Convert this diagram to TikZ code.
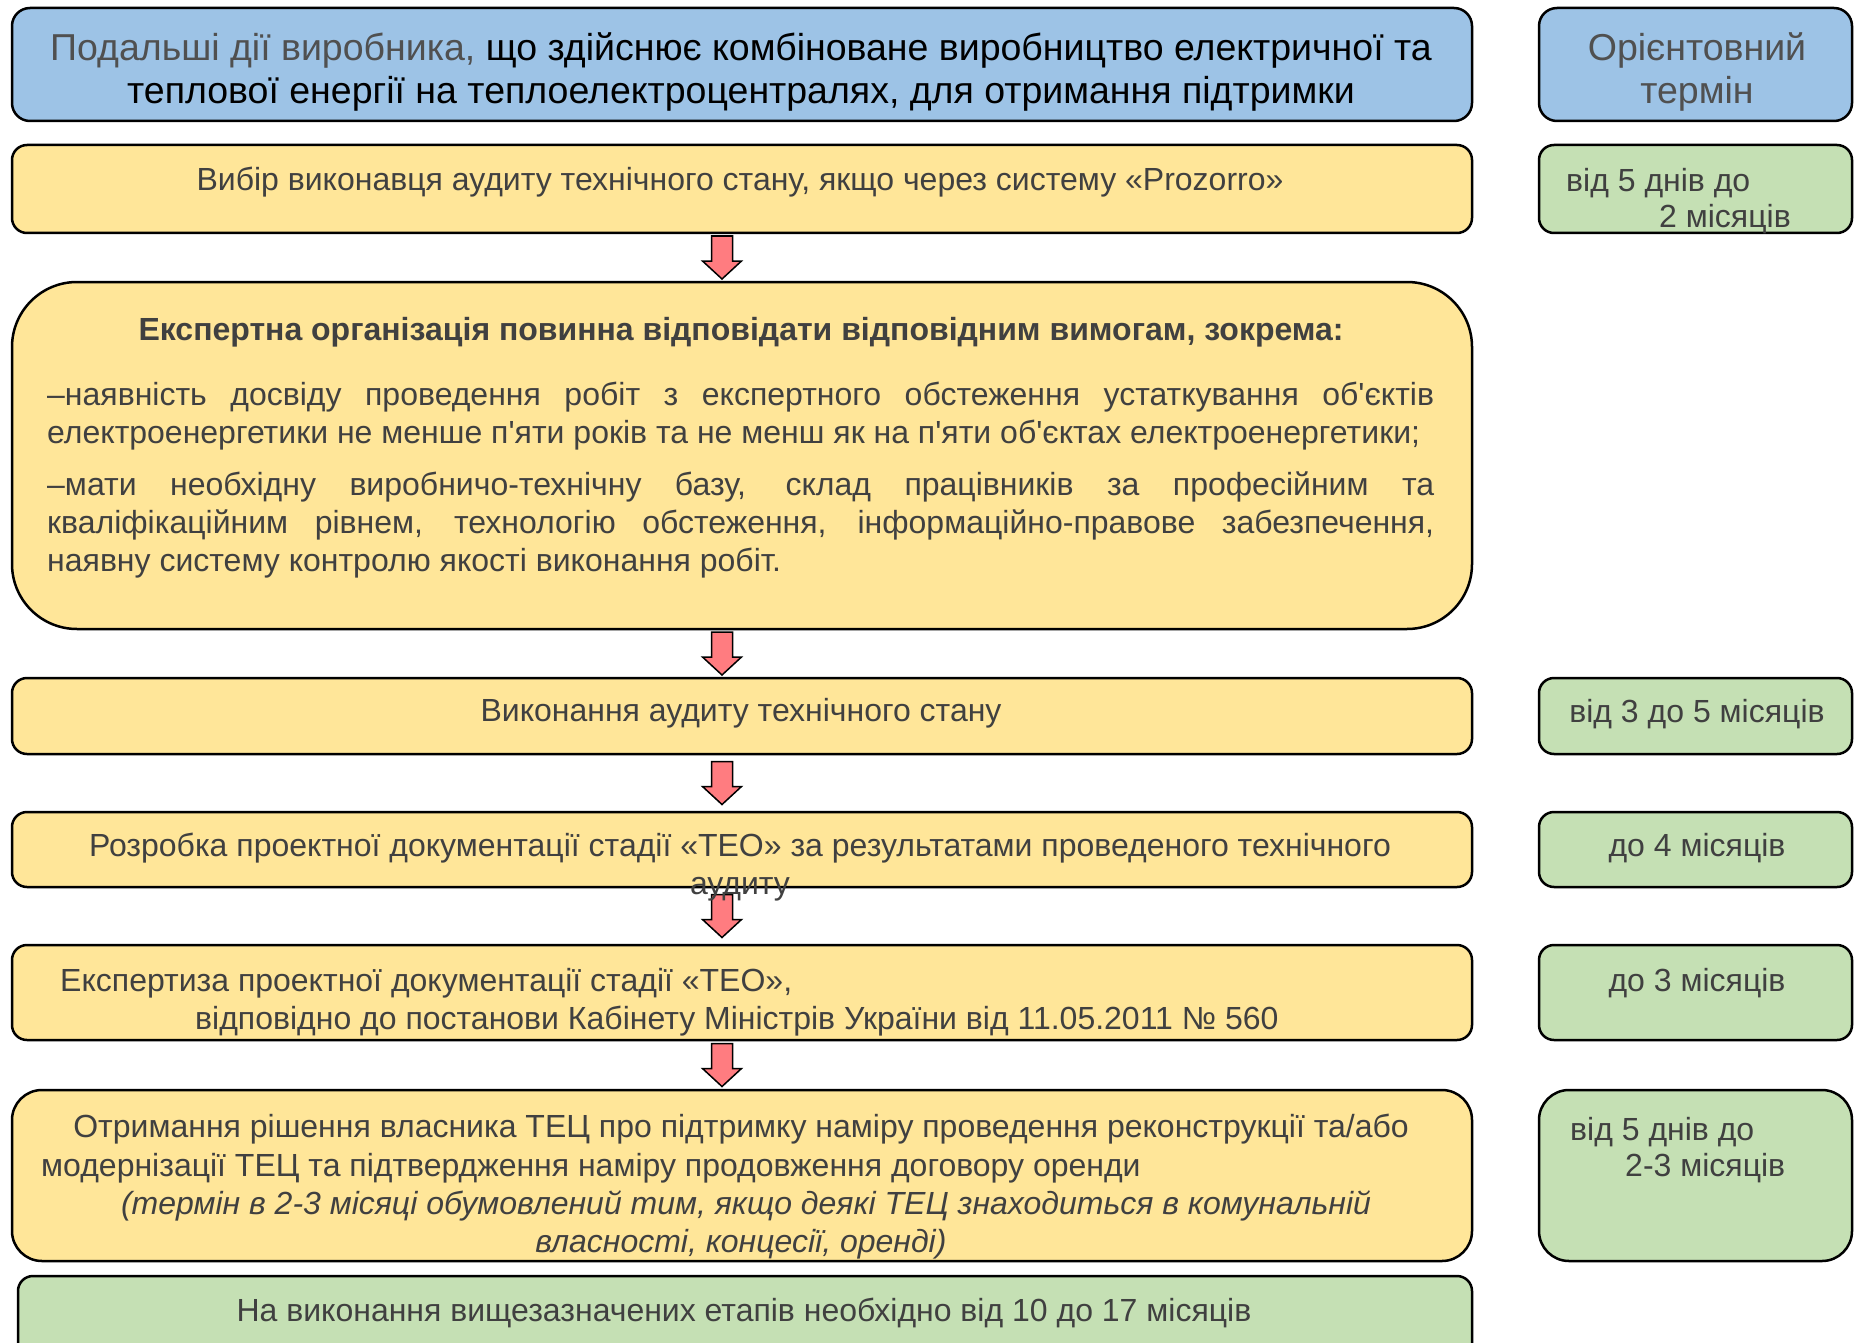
\documentclass[tikz,border=0pt]{standalone}
\usepackage{fontspec}
\setmainfont{Liberation Sans}[Ligatures=TeXOff]
\usetikzlibrary{calc}
\definecolor{hdrblue}{RGB}{157,195,230}
\definecolor{stepyellow}{RGB}{255,230,153}
\definecolor{termgreen}{RGB}{197,224,180}
\definecolor{arrowred}{RGB}{255,124,128}
\definecolor{txtgray}{RGB}{64,64,64}
\definecolor{hdrgray}{RGB}{80,80,80}

\begin{document}
\begin{tikzpicture}[x=1pt,y=-1pt,
  box/.style={draw=black, line width=2.5pt, rounded corners=#1, inner sep=0pt, outer sep=0pt, anchor=north west},
  box/.default=15pt,
  txt/.style={inner sep=0pt, text=txtgray, font=\fontsize{32}{38}\selectfont},
  hdrtxt/.style={inner sep=0pt, font=\fontsize{37.5}{44}\selectfont},
  flowarrow/.pic={\filldraw[fill=arrowred, draw=black, line width=1.5pt] (-10.5,-21.5) -- (10.5,-21.5) -- (10.5,3.5) -- (19.5,3.5) -- (0,21.5) -- (-19.5,3.5) -- (-10.5,3.5) -- cycle;}]
\clip (0,0) rectangle (1855,1343);

% Header boxes
\node[box=18pt, fill=hdrblue, minimum width=1460pt, minimum height=113pt] (head) at (12,8) {};
\node[box=18pt, fill=hdrblue, minimum width=313pt, minimum height=113pt] (headterm) at (1539,8) {};
% Steps
\node[box, fill=stepyellow, minimum width=1460pt, minimum height=88pt] (tender) at (12,145) {};
\node[box, fill=termgreen, minimum width=313pt, minimum height=88pt] (tenderterm) at (1539,145) {};
\node[box=65pt, fill=stepyellow, minimum width=1460pt, minimum height=347pt] (expert) at (12,282) {};
\node[box, fill=stepyellow, minimum width=1460pt, minimum height=76pt] (audit) at (12,678) {};
\node[box, fill=termgreen, minimum width=313pt, minimum height=76pt] (auditterm) at (1539,678) {};
\node[box, fill=stepyellow, minimum width=1460pt, minimum height=75pt] (teo) at (12,812) {};
\node[box, fill=termgreen, minimum width=313pt, minimum height=75pt] (teoterm) at (1539,812) {};
\node[box, fill=stepyellow, minimum width=1460pt, minimum height=95pt] (review) at (12,945) {};
\node[box, fill=termgreen, minimum width=313pt, minimum height=95pt] (reviewterm) at (1539,945) {};
\node[box=30pt, fill=stepyellow, minimum width=1460pt, minimum height=171pt] (owner) at (12,1090) {};
\node[box=30pt, fill=termgreen, minimum width=313pt, minimum height=171pt] (ownerterm) at (1539,1090) {};
\node[box, fill=termgreen, minimum width=1454pt, minimum height=100pt] (total) at (18,1276) {};

% Arrows
\pic at ($(tender.south)!.5!(expert.north)+(-20,0)$) {flowarrow};
\pic at ($(expert.south)!.5!(audit.north)+(-20,0)$) {flowarrow};
\pic at ($(audit.south)!.5!(teo.north)+(-20,0)$) {flowarrow};
\pic at ($(teo.south)!.5!(review.north)+(-20,0)$) {flowarrow};
\pic at ($(review.south)!.5!(owner.north)+(-20,0)$) {flowarrow};

% Text Node
\node[hdrtxt, anchor=base] (headl1) at (741,61) {\textcolor{hdrgray}{Подальші дії виробника,} що здійснює комбіноване виробництво електричної та};
\node[hdrtxt, anchor=base] (headl2) at (741,104) {теплової енергії на теплоелектроцентралях, для отримання підтримки};
\node[hdrtxt, text=hdrgray, anchor=base] (headterml1) at (1697,61) {Орієнтовний};
\node[hdrtxt, text=hdrgray, anchor=base] (headterml2) at (1697,104) {термін};
% Text Node
\node[txt, anchor=base] (tendertxt) at (740,191) {Вибір виконавця аудиту технічного стану, якщо через систему «Prozorro»};
\node[txt, anchor=base west] (tenderterml1) at (1566,192) {від 5 днів до};
\node[txt, anchor=base west] (tenderterml2) at (1659,228) {2 місяців};
% Text Node
\node[txt, anchor=base] (experttitle) at (741,340) {\bfseries Експертна організація повинна відповідати відповідним вимогам, зокрема:};
\node[txt, anchor=north west, text width=1387pt, align=justify] (expertp1) at (47,381) {\rule{0pt}{24pt}–наявність досвіду проведення робіт з експертного обстеження устаткування об'єктів\linebreak електроенергетики не менше п'яти років та не менш як на п'яти об'єктах електроенергетики;};
\node[txt, anchor=north west, text width=1387pt, align=justify] (expertp2) at (47,471) {\rule{0pt}{24pt}–мати необхідну виробничо-технічну базу, склад працівників за професійним та\linebreak кваліфікаційним рівнем, технологію обстеження, інформаційно-правове забезпечення,\linebreak наявну систему контролю якості виконання робіт.};
% Text Node
\node[txt, anchor=base] (audittxt) at (741,721) {Виконання аудиту технічного стану};
\node[txt, anchor=base] (audittermtxt) at (1697,722) {від 3 до 5 місяців};
\node[txt, anchor=base] (teol1) at (740,856) {Розробка проектної документації стадії «ТЕО» за результатами проведеного технічного};
\node[txt, anchor=base] (teol2) at (740,894) {аудиту};
\node[txt, anchor=base] (teotermtxt) at (1697,856) {до 4 місяців};
\node[txt, anchor=base west] (reviewl1) at (60,991) {Експертиза проектної документації стадії «ТЕО»,};
\node[txt, anchor=base west] (reviewl2) at (195,1029) {відповідно до постанови Кабінету Міністрів України від 11.05.2011 № 560};
\node[txt, anchor=base] (reviewtermtxt) at (1697,991) {до 3 місяців};
% Text Node
\node[txt, anchor=base] (ownerl1) at (741,1137) {Отримання рішення власника ТЕЦ про підтримку наміру проведення реконструкції та/або};
\node[txt, anchor=base west] (ownerl2) at (41,1176) {модернізації ТЕЦ та підтвердження наміру продовження договору оренди};
\node[txt, anchor=base, font=\fontsize{32}{38}\selectfont\itshape] (ownerl3) at (746,1214) {(термін в 2-3 місяці обумовлений тим, якщо деякі ТЕЦ знаходиться в комунальній};
\node[txt, anchor=base, font=\fontsize{32}{38}\selectfont\itshape] (ownerl4) at (741,1252) {власності, концесії, оренді)};
\node[txt, anchor=base west] (ownerterml1) at (1570,1140) {від 5 днів до};
\node[txt, anchor=base west] (ownerterml2) at (1625,1176) {2-3 місяців};
% Text Node
\node[txt, anchor=base] (totaltxt) at (744,1321) {На виконання вищезазначених етапів необхідно від 10 до 17 місяців};
\end{tikzpicture}
\end{document}
